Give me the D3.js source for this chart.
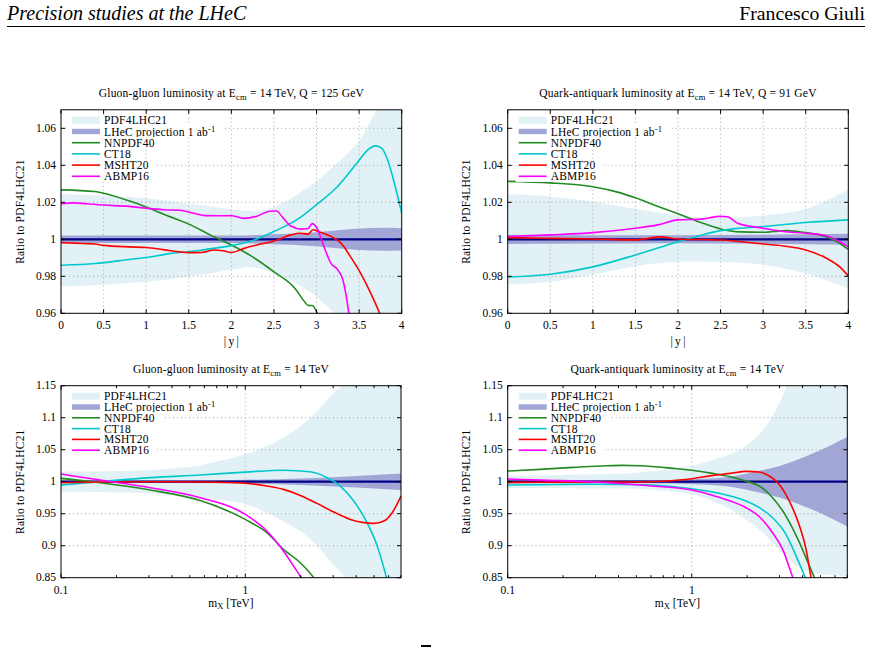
<!DOCTYPE html>
<html><head><meta charset="utf-8">
<script src="https://cdn.jsdelivr.net/npm/d3@7"></script>
<style>body{margin:0;background:#fff}svg{display:block}</style>
</head><body>
<svg id="c" width="872" height="647"></svg>
<script>
// ---------------- DATA ----------------
const legendLabels = ["PDF4LHC21", "LHeC projection 1 ab", "NNPDF40", "CT18", "MSHT20", "ABMP16"];
const seriesColors = ["#228b22", "#00c8cc", "#ff0000", "#ff00ff"];
const rapTicks = [0, 0.5, 1, 1.5, 2, 2.5, 3, 3.5, 4];
const rapTickLabels = ["0", "0.5", "1", "1.5", "2", "2.5", "3", "3.5", "4"];
const ratioTicksTop = [0.96, 0.98, 1, 1.02, 1.04, 1.06];
const ratioTickLabelsTop = ["0.96", "0.98", "1", "1.02", "1.04", "1.06"];
const ratioTicksBottom = [0.85, 0.9, 0.95, 1, 1.05, 1.1, 1.15];
const ratioTickLabelsBottom = ["0.85", "0.9", "0.95", "1", "1.05", "1.1", "1.15"];
const massTicks = [0.1, 1];
const massTickLabels = ["0.1", "1"];
const massMinorTicks = [0.2, 0.3, 0.4, 0.5, 0.6, 0.7, 0.8, 0.9, 2, 3, 4, 5, 6, 7];

// Gluon-gluon vs |y| (Q = 125 GeV)
const ggY_pdfUp = [[0,1.0245],[0.5,1.0235],[1,1.0222],[1.5,1.0193],[2,1.0162],[2.3,1.0152],[2.5,1.0172],[2.75,1.0235],[3,1.0315],[3.25,1.0415],[3.5,1.0533],[3.65,1.0655],[3.75,1.074],[4,1.09]];
const ggY_pdfLo = [[0,0.9745],[0.5,0.9755],[1,0.977],[1.5,0.9797],[2,0.9835],[2.25,0.985],[2.5,0.9815],[2.75,0.9765],[3,0.9687],[3.2,0.9605],[3.5,0.948],[4,0.93]];
const ggY_lhec = [[0,0.002],[1,0.002],[2,0.002],[2.5,0.0027],[3,0.0038],[3.5,0.0058],[3.75,0.0062],[4,0.006]];
const ggY_nnpdf = [[0,1.0267],[0.4,1.0258],[0.5,1.0249],[0.78,1.0211],[1,1.0175],[1.25,1.0127],[1.5,1.0082],[1.75,1.0024],[2,0.9969],[2.25,0.9905],[2.5,0.9824],[2.75,0.9733],[2.86,0.9662],[2.9,0.9643],[2.95,0.9642],[3.03,0.958],[3.1,0.952]];
const ggY_ct18 = [[0,0.986],[0.4,0.9869],[0.8,0.9891],[1,0.9902],[1.3,0.9924],[1.6,0.9938],[1.85,0.9955],[2,0.9966],[2.25,0.9993],[2.5,1.0042],[2.78,1.0109],[3,1.0187],[3.25,1.0287],[3.48,1.0415],[3.6,1.0482],[3.69,1.0505],[3.76,1.0494],[3.83,1.0435],[3.91,1.031],[4,1.0142]];
const ggY_msht = [[0,0.9982],[0.25,0.9977],[0.4,0.9975],[0.5,0.9967],[0.8,0.9959],[1,0.9956],[1.2,0.9944],[1.5,0.9928],[1.65,0.9929],[1.8,0.9942],[1.9,0.9938],[2,0.9929],[2.15,0.9951],[2.3,0.9969],[2.5,0.9991],[2.7,1.0024],[2.8,1.0033],[2.9,1.0028],[2.96,1.0052],[3.02,1.0042],[3.17,1.0015],[3.29,0.9978],[3.4,0.9905],[3.52,0.9815],[3.64,0.9705],[3.75,0.959],[3.8,0.953]];
const ggY_abmp = [[0,1.0193],[0.15,1.0197],[0.3,1.0192],[0.5,1.0185],[0.8,1.0178],[1,1.0168],[1.2,1.016],[1.4,1.0157],[1.55,1.0142],[1.7,1.0128],[2,1.0127],[2.15,1.0113],[2.3,1.0125],[2.45,1.0152],[2.53,1.0153],[2.6,1.012],[2.7,1.0072],[2.82,1.0055],[2.9,1.0058],[2.95,1.0085],[3.0,1.0065],[3.08,0.997],[3.17,0.987],[3.25,0.9835],[3.31,0.978],[3.35,0.969],[3.38,0.96],[3.4,0.955]];

// Quark-antiquark vs |y| (Q = 91 GeV)
const qqY_pdfUp = [[0,1.0245],[0.5,1.0232],[1,1.0205],[1.5,1.0165],[2,1.013],[2.5,1.0115],[3,1.0128],[3.5,1.0165],[4,1.0268]];
const qqY_pdfLo = [[0,0.9755],[0.5,0.977],[1,0.981],[1.5,0.9855],[2,0.9878],[2.5,0.9878],[3,0.9862],[3.5,0.9815],[4,0.9735]];
const qqY_lhec = [[0,0.0025],[2,0.0022],[4,0.003]];
const qqY_nnpdf = [[0,1.0313],[0.5,1.0305],[1,1.0284],[1.29,1.0255],[1.5,1.0224],[1.76,1.0178],[2,1.0138],[2.27,1.0091],[2.5,1.0056],[2.73,1.004],[3,1.0038],[3.28,1.0047],[3.5,1.0036],[3.71,1.0018],[3.87,0.9987],[4,0.9945]];
const qqY_ct18 = [[0,0.9796],[0.5,0.9811],[1,0.9851],[1.5,0.9915],[2,0.9987],[2.27,1.0022],[2.5,1.0047],[2.73,1.006],[3,1.0069],[3.5,1.0091],[4,1.0105]];
const qqY_msht = [[0,1.0009],[0.5,1.0005],[1,1.0002],[1.5,0.9997],[1.8,1.0013],[2,1.0002],[2.5,0.9996],[3,0.9975],[3.24,0.9964],[3.5,0.9942],[3.75,0.9896],[3.9,0.9851],[4,0.9802]];
const qqY_abmp = [[0,1.0015],[0.5,1.0024],[1,1.0036],[1.5,1.006],[1.76,1.0078],[2,1.0105],[2.27,1.0109],[2.5,1.0124],[2.58,1.0122],[2.7,1.0087],[3,1.006],[3.24,1.0042],[3.5,1.0033],[3.75,1.0018],[4,0.996]];

// Gluon-gluon vs mX [TeV]
const ggM_pdfUp = [[0.1,1.0156],[0.2,1.0167],[0.3,1.018],[0.5,1.0234],[0.569,1.0255],[1,1.0427],[1.31,1.0557],[1.61,1.0688],[2,1.087],[2.45,1.11],[3.02,1.139],[3.42,1.152],[4,1.18],[7,1.3]];
const ggM_pdfLo = [[0.1,0.9844],[0.2,0.9833],[0.3,0.9818],[0.5,0.9766],[1,0.965],[1.31,0.951],[1.61,0.938],[2,0.922],[2.45,0.9],[3.02,0.869],[3.5,0.85],[4,0.83],[7,0.78]];
const ggM_lhec = [[0.1,0.002],[0.5,0.002],[1,0.003],[2,0.005],[4,0.009],[7,0.013]];
const ggM_nnpdf = [[0.1,1.0052],[0.163,0.9984],[0.305,0.987],[0.569,0.9705],[1,0.9411],[1.31,0.9203],[1.61,0.8943],[1.99,0.8734],[2.35,0.85],[2.6,0.83]];
const ggM_ct18 = [[0.1,0.9948],[0.163,1.0],[0.305,1.0063],[0.569,1.0105],[1,1.015],[1.61,1.018],[2.25,1.0155],[2.78,1.0063],[3.28,0.9932],[3.88,0.9698],[4.58,0.936],[5.2,0.8995],[5.84,0.85],[6.2,0.82]];
const ggM_msht = [[0.1,0.9984],[0.163,0.9995],[0.3,1.0],[0.6,0.9995],[1,0.9975],[1.31,0.9932],[1.61,0.988],[1.99,0.9786],[2.45,0.9661],[3.02,0.9526],[3.72,0.9411],[4.4,0.936],[4.98,0.9349],[5.65,0.9385],[6.27,0.9516],[7,0.9776]];
const ggM_abmp = [[0.1,1.012],[0.163,1.0026],[0.305,0.9906],[0.569,0.975],[1,0.9489],[1.31,0.9229],[1.61,0.8916],[1.83,0.868],[2.01,0.85],[2.2,0.83]];

// Quark-antiquark vs mX [TeV]
const qqM_pdfUp = [[0.1,1.0094],[0.3,1.0115],[0.5,1.014],[1,1.0245],[1.3,1.0339],[1.62,1.0427],[1.97,1.0557],[2.33,1.074],[2.75,1.1026],[3.12,1.1339],[3.3,1.152],[4,1.2],[7,1.3]];
const qqM_pdfLo = [[0.1,0.9896],[0.3,0.9893],[0.5,0.9888],[1,0.9802],[1.3,0.9698],[1.62,0.9568],[1.97,0.9411],[2.33,0.9255],[2.75,0.9047],[3.25,0.8838],[3.69,0.8682],[4.54,0.8578],[7,0.8526]];
const qqM_lhec = [[0.1,0.003],[0.564,0.0026],[1,0.004],[1.62,0.0078],[2.33,0.017],[3,0.0245],[4.54,0.044],[7,0.07]];
const qqM_nnpdf = [[0.1,1.0167],[0.15,1.0193],[0.227,1.0224],[0.345,1.025],[0.42,1.0255],[0.524,1.025],[0.794,1.0208],[1,1.0178],[1.3,1.013],[1.62,1.0078],[1.97,1.001],[2.33,0.9932],[2.75,0.975],[3.25,0.9463],[3.85,0.9047],[4.36,0.8682],[4.64,0.85],[4.9,0.835]];
const qqM_ct18 = [[0.1,0.9948],[0.3,0.996],[0.564,0.9952],[1,0.989],[1.3,0.9839],[1.62,0.9776],[1.97,0.9698],[2.33,0.9594],[2.75,0.9437],[3.25,0.9177],[3.69,0.8838],[4.14,0.85],[4.4,0.83]];
const qqM_msht = [[0.1,0.999],[0.2,0.9993],[0.564,0.9996],[0.7,1.0008],[1,1.0047],[1.3,1.0099],[1.62,1.013],[1.97,1.0161],[2.33,1.0151],[2.64,1.0089],[2.99,0.9958],[3.39,0.9698],[3.85,0.9307],[4.18,0.8943],[4.45,0.85],[4.6,0.83]];
const qqM_abmp = [[0.1,1.0042],[0.15,1.0025],[0.3,0.9995],[0.564,0.994],[1,0.987],[1.3,0.9786],[1.62,0.9698],[1.97,0.9594],[2.33,0.9453],[2.75,0.9203],[3.12,0.8943],[3.54,0.85],[3.7,0.835]];

// ---------------- DRAWING ----------------
const svg = d3.select("#c");
const FONT = "'Liberation Serif', serif";
const C_PDF = "#e2f1f6", C_LHEC = "#a2a6d6", C_NAVY = "#000088";

// header
svg.append("text").attr("x", 7).attr("y", 20).attr("font-family", FONT).attr("font-style", "italic")
  .attr("font-size", 20).text("Precision studies at the LHeC");
svg.append("text").attr("x", 865).attr("y", 20).attr("text-anchor", "end").attr("font-family", FONT)
  .attr("font-size", 19.8).text("Francesco Giuli");
svg.append("line").attr("x1", 7).attr("x2", 865).attr("y1", 26.5).attr("y2", 26.5).attr("stroke", "#000").attr("stroke-width", 1);
// top edge of the page number, cut by the page border
svg.append("rect").attr("x", 421).attr("y", 645).attr("width", 10).attr("height", 2).attr("fill", "#000");

const panels = [
  { id: "tl", x0: 61, x1: 401.7, y0: 109.8, y1: 313.3, log: false, xd: [0, 4], yd: [0.96, 1.07],
    title: ["Gluon-gluon luminosity at E", "cm", " = 14 TeV, Q = 125 GeV"], xlab: "rap",
    up: ggY_pdfUp, lo: ggY_pdfLo, lhec: ggY_lhec, curves: [ggY_nnpdf, ggY_ct18, ggY_msht, ggY_abmp], rowH: 11.2 },
  { id: "tr", x0: 507.7, x1: 848.3, y0: 109.8, y1: 313.3, log: false, xd: [0, 4], yd: [0.96, 1.07],
    title: ["Quark-antiquark luminosity at E", "cm", " = 14 TeV, Q = 91 GeV"], xlab: "rap",
    up: qqY_pdfUp, lo: qqY_pdfLo, lhec: qqY_lhec, curves: [qqY_nnpdf, qqY_ct18, qqY_msht, qqY_abmp], rowH: 11.2 },
  { id: "bl", x0: 61, x1: 401, y0: 385.7, y1: 577.7, log: true, xd: [0.1, 7], yd: [0.85, 1.15],
    title: ["Gluon-gluon luminosity at E", "cm", " = 14 TeV"], xlab: "mass",
    up: ggM_pdfUp, lo: ggM_pdfLo, lhec: ggM_lhec, curves: [ggM_nnpdf, ggM_ct18, ggM_msht, ggM_abmp], rowH: 10.8 },
  { id: "br", x0: 507.7, x1: 847.3, y0: 385.7, y1: 577.7, log: true, xd: [0.1, 7], yd: [0.85, 1.15],
    title: ["Quark-antiquark luminosity at E", "cm", " = 14 TeV"], xlab: "mass",
    up: qqM_pdfUp, lo: qqM_pdfLo, lhec: qqM_lhec, curves: [qqM_nnpdf, qqM_ct18, qqM_msht, qqM_abmp], rowH: 10.8 }
];

panels.forEach(p => {
  const x = (p.log ? d3.scaleLog() : d3.scaleLinear()).domain(p.xd).range([p.x0, p.x1]);
  const y = d3.scaleLinear().domain(p.yd).range([p.y1, p.y0]);
  const g = svg.append("g");
  const clipId = "clip-" + p.id;
  g.append("clipPath").attr("id", clipId).append("rect")
    .attr("x", p.x0).attr("y", p.y0).attr("width", p.x1 - p.x0).attr("height", p.y1 - p.y0);
  const bands = g.append("g").attr("clip-path", `url(#${clipId})`);
  const grid = g.append("g").attr("stroke", "#a8a8a8").attr("stroke-width", 1).attr("stroke-dasharray", "1,3");
  const plot = g.append("g").attr("clip-path", `url(#${clipId})`);

  // PDF4LHC21 band
  const lineB = d3.line().x(d => x(d[0])).y(d => y(d[1])).curve(d3.curveCatmullRom);
  const upPath = lineB(p.up);
  const loPath = lineB(p.lo.slice().reverse());
  bands.append("path").attr("d", upPath + "L" + loPath.slice(1) + "Z").attr("fill", C_PDF);

  // LHeC band
  const area = d3.area().x(d => x(d[0])).y0(d => y(1 - d[1])).y1(d => y(1 + d[1])).curve(d3.curveMonotoneX);
  bands.append("path").attr("d", area(p.lhec)).attr("fill", C_LHEC);

  // grid
  const yTicks = p.log ? ratioTicksBottom : ratioTicksTop;
  const yLabels = p.log ? ratioTickLabelsBottom : ratioTickLabelsTop;
  const xTicks = p.log ? massTicks : rapTicks;
  const xLabels = p.log ? massTickLabels : rapTickLabels;
  yTicks.forEach(t => {
    const yy = y(t);
    if (yy > p.y0 + 1 && yy < p.y1 - 1)
      grid.append("line").attr("x1", p.x0).attr("x2", p.x1).attr("y1", yy).attr("y2", yy);
  });
  xTicks.forEach(t => {
    const xx = x(t);
    if (xx > p.x0 + 1 && xx < p.x1 - 1)
      grid.append("line").attr("x1", xx).attr("x2", xx).attr("y1", p.y0).attr("y2", p.y1);
  });

  // central line
  plot.append("line").attr("x1", p.x0).attr("x2", p.x1).attr("y1", y(1)).attr("y2", y(1))
    .attr("stroke", C_NAVY).attr("stroke-width", 2.2);

  // curves
  const lineC = d3.line().x(d => x(d[0])).y(d => y(d[1])).curve(d3.curveMonotoneX);
  p.curves.forEach((c, i) => {
    plot.append("path").attr("d", lineC(c)).attr("fill", "none").attr("stroke", seriesColors[i])
      .attr("stroke-width", 1.6).attr("stroke-linejoin", "round");
  });

  // frame and ticks
  const tk = g.append("g").attr("stroke", "#000").attr("stroke-width", 1);
  yTicks.forEach((t, i) => {
    const yy = y(t);
    tk.append("line").attr("x1", p.x0).attr("x2", p.x0 + 4).attr("y1", yy).attr("y2", yy);
    tk.append("line").attr("x1", p.x1).attr("x2", p.x1 - 4).attr("y1", yy).attr("y2", yy);
    g.append("text").attr("x", p.x0 - 5).attr("y", yy).attr("dy", "0.33em").attr("text-anchor", "end")
      .attr("font-family", FONT).attr("font-size", 11.5).text(yLabels[i]);
  });
  xTicks.forEach((t, i) => {
    const xx = x(t);
    tk.append("line").attr("x1", xx).attr("x2", xx).attr("y1", p.y1).attr("y2", p.y1 - 4);
    tk.append("line").attr("x1", xx).attr("x2", xx).attr("y1", p.y0).attr("y2", p.y0 + 4);
    g.append("text").attr("x", xx).attr("y", p.y1 + 16).attr("text-anchor", "middle")
      .attr("font-family", FONT).attr("font-size", 11.5).text(xLabels[i]);
  });
  if (p.log) {
    massMinorTicks.forEach(t => {
      const xx = x(t);
      if (xx > p.x1) return;
      tk.append("line").attr("x1", xx).attr("x2", xx).attr("y1", p.y1).attr("y2", p.y1 - 2.5);
      tk.append("line").attr("x1", xx).attr("x2", xx).attr("y1", p.y0).attr("y2", p.y0 + 2.5);
    });
  }
  g.append("rect").attr("x", p.x0).attr("y", p.y0).attr("width", p.x1 - p.x0).attr("height", p.y1 - p.y0)
    .attr("fill", "none").attr("stroke", "#000").attr("stroke-width", 1);

  // title
  const cx = (p.x0 + p.x1) / 2;
  const tt = g.append("text").attr("x", cx).attr("y", p.y0 - 12.5).attr("text-anchor", "middle")
    .attr("font-family", FONT).attr("font-size", 11.5).attr("letter-spacing", 0.2);
  tt.append("tspan").text(p.title[0]);
  tt.append("tspan").attr("dy", 2.5).attr("font-size", 8.5).text(p.title[1]);
  tt.append("tspan").attr("dy", -2.5).text(p.title[2]);

  // axis labels
  const yl = (p.y0 + p.y1) / 2;
  g.append("text").attr("transform", `translate(${p.x0 - 41},${yl}) rotate(-90)`).attr("text-anchor", "middle")
    .attr("dy", "0.33em").attr("font-family", FONT).attr("font-size", 11.5).attr("letter-spacing", 0.2)
    .text("Ratio to PDF4LHC21");
  if (p.xlab === "rap") {
    g.append("text").attr("x", cx).attr("y", p.y1 + 32).attr("text-anchor", "middle")
      .attr("font-family", FONT).attr("font-size", 11.5).text("|\u2009y\u2009|");
  } else {
    const xt = g.append("text").attr("x", cx).attr("y", p.y1 + 29).attr("text-anchor", "middle")
      .attr("font-family", FONT).attr("font-size", 11.5);
    xt.append("tspan").text("m");
    xt.append("tspan").attr("dy", 2.5).attr("font-size", 8.5).text("X");
    xt.append("tspan").attr("dy", -2.5).text(" [TeV]");
  }

  // legend
  const lg = g.append("g");
  legendLabels.forEach((lab, i) => {
    const cy = p.y0 + 10.5 + i * p.rowH;
    const row = lg.append("g");
    const bg = row.append("rect").attr("fill", "#fff");
    const t = row.append("text").attr("x", p.x0 + 43).attr("y", cy).attr("dy", "0.35em")
      .attr("font-family", FONT).attr("font-size", 11.5).attr("letter-spacing", 0.2).text(lab);
    if (i === 1) t.append("tspan").attr("dy", -4).attr("font-size", 8.5).text("-1");
    const w = t.node().getComputedTextLength();
    bg.attr("x", p.x0 + 8).attr("y", cy - p.rowH / 2).attr("width", 43 + w - 8 + 8).attr("height", p.rowH);
    if (i === 0) {
      row.append("rect").attr("x", p.x0 + 11).attr("y", cy - 3.5).attr("width", 28).attr("height", 7).attr("fill", C_PDF);
    } else if (i === 1) {
      row.append("rect").attr("x", p.x0 + 11).attr("y", cy - 2.7).attr("width", 28).attr("height", 5.4).attr("fill", C_LHEC);
    } else {
      row.append("line").attr("x1", p.x0 + 11).attr("x2", p.x0 + 39).attr("y1", cy).attr("y2", cy)
        .attr("stroke", seriesColors[i - 2]).attr("stroke-width", 1.6);
    }
  });
});
</script>
</body></html>
